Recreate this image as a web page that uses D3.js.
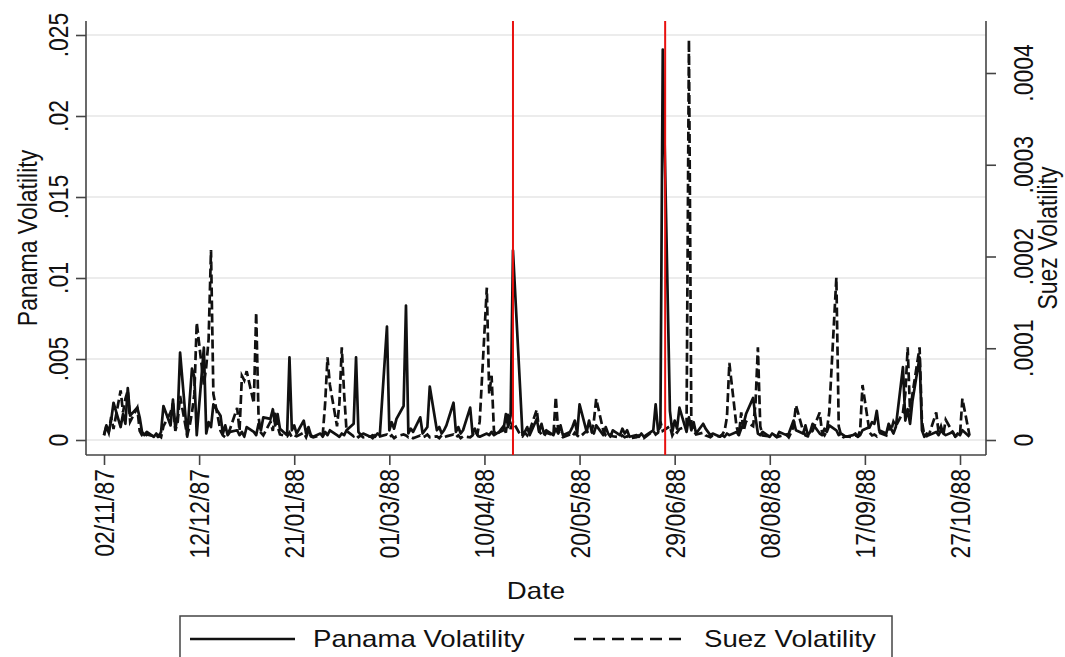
<!DOCTYPE html>
<html>
<head>
<meta charset="utf-8">
<script src="https://cdn.jsdelivr.net/npm/d3@7"></script>
<style>
  body { margin: 0; background: #fff; }
  text { font-family: "Liberation Sans", Arial, sans-serif; fill: #111; }
</style>
</head>
<body>
<div id="chart"></div>
<script>
// daily (weekday) volatility, first trading day 02/11/87, last 31/10/88
var startDate = "02/11/87";
var endDate = "31/10/88";

// Panama volatility, in thousandths (.001)
var panamaMilli = [
  0.3, 0.9, 0.5, 1.2, 2.3, 0.8, 1.6, 1.0, 3.2, 1.5,
  2.0, 1.4, 0.5, 0.3, 0.5, 0.2, 0.4, 0.2, 0.5, 2.1,
  0.9, 2.5, 0.7, 1.5, 5.4, 0.2, 2.4, 4.4, 3.9, 0.3,
  5.7, 0.4, 1.1, 0.8, 2.2, 1.5, 0.4, 0.9, 0.3, 0.5,
  0.6, 0.3, 0.5, 0.2, 0.8, 0.5, 0.3, 1.0, 0.6, 1.4,
  1.3, 1.9, 0.9, 1.6, 0.7, 0.3, 5.1, 0.6, 0.9, 0.4,
  1.2, 0.4, 0.8, 0.3, 0.2, 0.4, 0.2, 0.5, 0.3, 0.6,
  0.3, 0.2, 0.4, 0.3, 0.6, 1.0, 5.1, 0.5, 0.3, 0.4,
  0.2, 0.3, 0.2, 0.4, 0.3, 7.0, 0.6, 1.1, 0.7, 1.3,
  2.1, 8.3, 0.4, 0.7, 0.5, 1.4, 0.4, 0.6, 0.8, 3.3,
  0.6, 0.8, 0.4, 0.6, 0.9, 2.3, 0.5, 0.8, 0.4, 0.6,
  2.0, 0.4, 0.7, 0.3, 0.2, 0.4, 0.3, 0.5, 0.3, 0.4,
  0.6, 1.6, 0.8, 1.5, 11.7, 3.2, 0.3, 0.5, 0.8, 0.3,
  1.3, 0.5, 1.0, 0.4, 0.6, 0.3, 0.7, 0.4, 0.9, 0.3,
  0.5, 0.8, 1.2, 0.4, 2.2, 0.5, 1.2, 0.6, 0.4, 0.9,
  0.3, 0.8, 0.4, 0.2, 0.6, 0.3, 0.7, 0.4, 0.6, 0.2,
  0.3, 0.2, 0.4, 0.2, 0.3, 0.6, 2.2, 0.6, 0.8, 24.1,
  1.8, 0.5, 1.2, 0.7, 2.0, 0.5, 1.4, 0.6, 1.1, 0.4,
  1.0, 0.7, 0.5, 0.3, 0.4, 0.2, 0.3, 0.2, 0.4, 0.3,
  0.5, 0.3, 0.7, 1.0, 1.6, 2.6, 1.4, 0.4, 0.3, 0.5,
  0.2, 0.4, 0.3, 0.2, 0.5, 0.3, 0.4, 0.8, 1.2, 0.6,
  0.4, 0.9, 0.3, 0.5, 1.0, 0.4, 0.3, 0.7, 0.5, 0.9,
  0.6, 0.3, 0.4, 0.3, 0.2, 0.3, 0.4, 0.2, 0.3, 0.6,
  0.8, 1.1, 1.0, 1.8, 0.6, 0.4, 1.0, 0.7, 0.4, 0.8,
  4.5, 1.2, 1.9, 1.0, 2.4, 5.1, 0.6, 0.2, 0.4, 0.3,
  0.5, 0.3, 0.6, 0.4, 0.3, 0.5, 0.2, 0.4, 0.3, 0.6,
  0.2
];

// Suez volatility, in units of .00001
var suezE5 = [
  0.5, 1.5, 0.8, 2.5, 1.2, 5.4, 3.0, 4.5, 5.4, 2.0,
  3.5, 1.0, 0.5, 0.3, 0.6, 0.4, 0.2, 0.5, 0.3, 1.5,
  3.0, 4.0, 1.0, 2.0, 4.8, 0.5, 1.5, 3.0, 5.0, 12.8,
  6.0, 8.0, 11.0, 20.7, 5.0, 1.0, 0.5, 0.3, 0.6, 1.2,
  3.5, 1.0, 7.0, 6.5, 7.5, 4.0, 13.9, 2.5, 0.8, 0.5,
  2.0, 1.0, 3.0, 1.5, 0.6, 0.4, 0.8, 0.3, 0.5, 0.4,
  0.8, 0.3, 1.0, 0.4, 0.3, 0.5, 0.6, 4.0, 9.0, 6.0,
  1.5, 4.0, 10.1, 5.0, 1.0, 0.4, 0.6, 0.3, 0.5, 0.3,
  0.4, 0.2, 0.5, 0.3, 0.4, 0.6, 0.3, 0.5, 0.2, 0.4,
  0.6, 0.5, 0.3, 0.4, 0.2, 0.5, 0.3, 0.4, 0.6, 0.3,
  0.4, 0.2, 0.5, 0.3, 0.4, 0.6, 0.3, 0.5, 0.2, 0.4,
  0.3, 0.5, 1.0, 0.6, 2.0, 16.6, 5.0, 7.0, 1.0, 0.5,
  1.5, 0.8, 3.0, 1.2, 2.0, 0.6, 0.4, 0.8, 0.5, 1.0,
  3.3, 1.0, 0.6, 0.4, 0.8, 0.5, 4.7, 1.0, 0.5, 0.3,
  0.6, 0.4, 0.8, 0.5, 0.3, 1.0, 0.6, 0.8, 2.0, 4.5,
  1.0, 0.5, 0.3, 0.6, 0.4, 0.3, 0.5, 0.3, 0.4, 0.2,
  0.3, 0.5, 0.3, 0.2, 0.4, 1.0, 0.6, 0.8, 2.0, 1.0,
  1.5, 0.5, 1.0, 0.8, 1.2, 1.5, 43.6, 2.0, 1.0, 0.6,
  0.8, 0.5, 0.4, 0.3, 0.5, 0.4, 0.6, 1.0, 2.5, 8.4,
  1.5, 0.5, 3.0, 1.0, 2.0, 1.5, 4.0, 10.1, 1.5, 0.5,
  0.4, 0.3, 0.5, 0.3, 0.4, 0.6, 0.3, 0.8, 1.5, 3.8,
  1.0, 0.5, 0.4, 0.8, 1.0, 3.0, 0.8, 0.5, 1.0, 3.0,
  17.7, 1.5, 0.5, 0.3, 0.4, 0.3, 0.5, 0.4, 1.0, 6.0,
  0.8, 0.5, 0.6, 0.4, 0.8, 0.5, 1.5, 1.0, 2.0, 1.5,
  3.0, 5.0, 10.1, 3.0, 5.0, 10.1, 2.0, 0.5, 0.4, 0.6,
  3.0, 0.8, 1.5, 0.6, 2.2, 0.8, 0.4, 0.5, 0.6, 4.5,
  0.5
];

// x axis tick dates, event lines
var xTickLabels = ["02/11/87", "12/12/87", "21/01/88", "01/03/88", "10/04/88",
                   "20/05/88", "29/06/88", "08/08/88", "17/09/88", "27/10/88"];
var eventDates = ["22/04/88", "25/06/88"];

// y axis ticks
var leftTicks = [0, .005, .01, .015, .02, .025];
var leftTickLabels = ["0", ".005", ".01", ".015", ".02", ".025"];
var rightTicks = [0, .0001, .0002, .0003, .0004];
var rightTickLabels = ["0", ".0001", ".0002", ".0003", ".0004"];

var seriesNames = ["Panama Volatility", "Suez Volatility"];

var svgWidth = 1065;
var svgHeight = 657;
var stretch = 1.2; // text in the picture is a bit wider than tall
var fontSize = 23;

var plot = { left: 86, right: 986, top: 21, bottom: 455 };

var parseDate = d3.utcParse("%d/%m/%y");

// weekday calendar for the data
var tradingDays = d3.utcDays(parseDate(startDate), d3.utcDay.offset(parseDate(endDate), 1))
  .filter(d => d.getUTCDay() !== 0 && d.getUTCDay() !== 6);

var data = tradingDays.map(function (d, i) {
  return { date: d, panama: panamaMilli[i] / 1000, suez: suezE5[i] / 100000 };
});

var svg = d3.select("#chart")
  .append("svg")
  .attr("width", svgWidth)
  .attr("height", svgHeight);

// scales
var xScale = d3.scaleUtc()
  .domain([parseDate(xTickLabels[0]), parseDate(xTickLabels[xTickLabels.length - 1])])
  .range([104, 960]);

var yLeft = d3.scaleLinear().domain([0, .025]).range([440, 35]);
var yRight = d3.scaleLinear().domain([0, .0004]).range([440, 73]);

// gridlines
svg.append("g")
  .selectAll("line")
  .data(leftTicks)
  .enter()
  .append("line")
  .attr("x1", plot.left)
  .attr("x2", plot.right)
  .attr("y1", d => yLeft(d))
  .attr("y2", d => yLeft(d))
  .attr("stroke", "#e6e6e6")
  .attr("stroke-width", 1.5);

// axes (ticks only, frame lines drawn by hand below)
var leftAxis = d3.axisLeft(yLeft).tickValues(leftTicks).tickSize(10).tickFormat("");
var rightAxis = d3.axisRight(yRight).tickValues(rightTicks).tickSize(10).tickFormat("");
var bottomAxis = d3.axisBottom(xScale)
  .tickValues(xTickLabels.map(parseDate))
  .tickSize(10)
  .tickFormat("");

svg.append("g").attr("transform", `translate(${plot.left},0)`).call(leftAxis)
  .call(g => g.select(".domain").remove());
svg.append("g").attr("transform", `translate(${plot.right},0)`).call(rightAxis)
  .call(g => g.select(".domain").remove());
svg.append("g").attr("transform", `translate(0,${plot.bottom})`).call(bottomAxis)
  .call(g => g.select(".domain").remove());

svg.selectAll(".tick line").attr("stroke", "#444").attr("stroke-width", 1.6);

// frame: left, right, bottom
var frame = [
  [plot.left, plot.top, plot.left, plot.bottom],
  [plot.right, plot.top, plot.right, plot.bottom],
  [plot.left, plot.bottom, plot.right, plot.bottom]
];
svg.append("g")
  .selectAll("line")
  .data(frame)
  .enter()
  .append("line")
  .attr("x1", d => d[0]).attr("y1", d => d[1])
  .attr("x2", d => d[2]).attr("y2", d => d[3])
  .attr("stroke", "#444")
  .attr("stroke-width", 1.6);

// tick labels, rotated
svg.append("g")
  .selectAll("text")
  .data(leftTicks)
  .enter()
  .append("text")
  .attr("transform", (d) => `translate(68, ${yLeft(d)}) scale(${stretch},1) rotate(-90)`)
  .attr("text-anchor", "middle")
  .attr("font-size", fontSize)
  .text((d, i) => leftTickLabels[i]);

svg.append("g")
  .selectAll("text")
  .data(rightTicks)
  .enter()
  .append("text")
  .attr("transform", (d) => `translate(1033, ${yRight(d)}) scale(${stretch},1) rotate(-90)`)
  .attr("text-anchor", "middle")
  .attr("font-size", fontSize)
  .text((d, i) => rightTickLabels[i]);

svg.append("g")
  .selectAll("text")
  .data(xTickLabels)
  .enter()
  .append("text")
  .attr("transform", d => `translate(${xScale(parseDate(d))}, 469) scale(${stretch},1) rotate(-90)`)
  .attr("text-anchor", "end")
  .attr("dy", "0.36em")
  .attr("font-size", fontSize)
  .text(d => d);

// axis titles
svg.append("text")
  .attr("transform", `translate(37, ${(plot.top + plot.bottom) / 2}) scale(${stretch},1) rotate(-90)`)
  .attr("text-anchor", "middle")
  .attr("font-size", fontSize)
  .text("Panama Volatility");

svg.append("text")
  .attr("transform", `translate(1057, ${(plot.top + plot.bottom) / 2}) scale(${stretch},1) rotate(-90)`)
  .attr("text-anchor", "middle")
  .attr("font-size", fontSize)
  .text("Suez Volatility");

svg.append("text")
  .attr("transform", `translate(${(plot.left + plot.right) / 2}, 599) scale(${stretch},1)`)
  .attr("text-anchor", "middle")
  .attr("font-size", fontSize)
  .text("Date");

// series
var panamaLine = d3.line().x(d => xScale(d.date)).y(d => yLeft(d.panama));
var suezLine = d3.line().x(d => xScale(d.date)).y(d => yRight(d.suez));

svg.append("path")
  .datum(data)
  .attr("d", panamaLine)
  .attr("fill", "none")
  .attr("stroke", "#111")
  .attr("stroke-width", 2.7)
  .attr("stroke-linejoin", "round");

svg.append("path")
  .datum(data)
  .attr("d", suezLine)
  .attr("fill", "none")
  .attr("stroke", "#111")
  .attr("stroke-width", 2.7)
  .attr("stroke-dasharray", "9,4");

// event lines
svg.append("g")
  .selectAll("line")
  .data(eventDates)
  .enter()
  .append("line")
  .attr("x1", d => xScale(parseDate(d)))
  .attr("x2", d => xScale(parseDate(d)))
  .attr("y1", plot.top)
  .attr("y2", plot.bottom)
  .attr("stroke", "#e8110f")
  .attr("stroke-width", 2);

// legend
var legend = svg.append("g");
legend.append("rect")
  .attr("x", 180).attr("y", 616)
  .attr("width", 712).attr("height", 60)
  .attr("fill", "#fff")
  .attr("stroke", "#444")
  .attr("stroke-width", 1.5);

var legendItems = [
  { name: seriesNames[0], x1: 190, x2: 295, tx: 313, dash: null },
  { name: seriesNames[1], x1: 574, x2: 682, tx: 704, dash: "12,7" }
];

legend.selectAll("line")
  .data(legendItems)
  .enter()
  .append("line")
  .attr("x1", d => d.x1).attr("x2", d => d.x2)
  .attr("y1", 639).attr("y2", 639)
  .attr("stroke", "#111")
  .attr("stroke-width", 2.4)
  .attr("stroke-dasharray", d => d.dash);

legend.selectAll("text")
  .data(legendItems)
  .enter()
  .append("text")
  .attr("transform", d => `translate(${d.tx}, 647) scale(${stretch},1)`)
  .attr("font-size", fontSize)
  .text(d => d.name);
</script>
</body>
</html>
